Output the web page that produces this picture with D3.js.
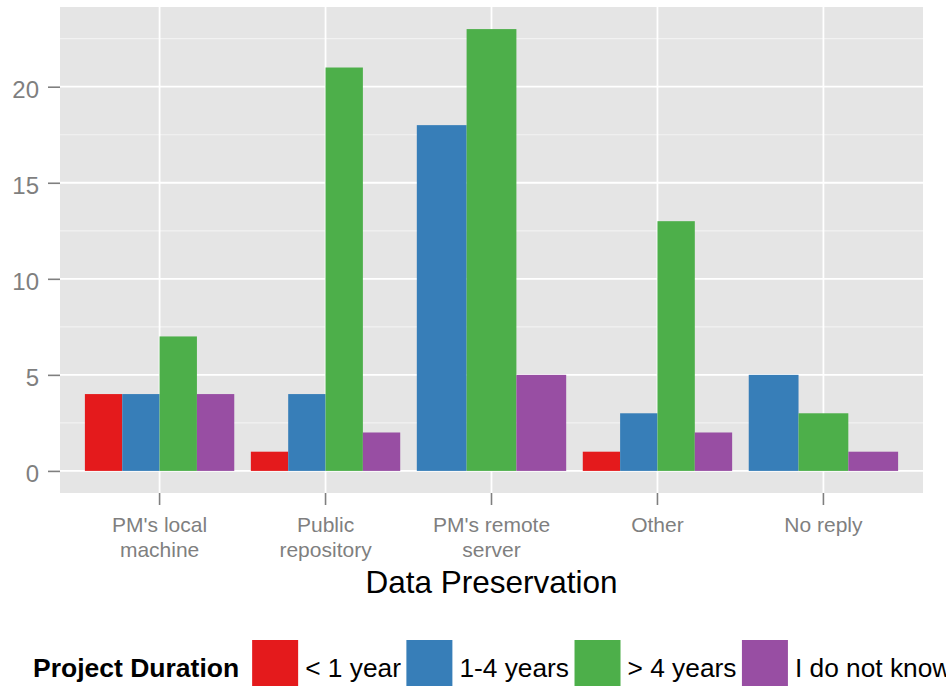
<!DOCTYPE html>
<html>
<head>
<meta charset="utf-8">
<script src="https://cdn.jsdelivr.net/npm/d3@7"></script>
<style>
  body { margin: 0; background: #fff; }
  svg { display: block; font-family: "Liberation Sans", Arial, sans-serif; }
</style>
</head>
<body>
<svg id="chart" width="946" height="686"></svg>
<script>
// ---- data ----
const categories = ["PM's local machine", "Public repository", "PM's remote server", "Other", "No reply"];
const categoryLines = [["PM's local", "machine"], ["Public", "repository"], ["PM's remote", "server"], ["Other"], ["No reply"]];
const groups = ["< 1 year", "1-4 years", "> 4 years", "I do not know"];
const lessThan1Year = [4, 1, null, 1, null];
const oneToFourYears = [4, 4, 18, 3, 5];
const moreThan4Years = [7, 21, 23, 13, 3];
const doNotKnow = [4, 2, 5, 2, 1];
const groupColors = ["#E41A1C", "#377EB8", "#4DAF4A", "#984EA3"];
const yTicks = [0, 5, 10, 15, 20];
const yMinorTicks = [2.5, 7.5, 12.5, 17.5, 22.5];
const xTitle = "Data Preservation";
const legendTitle = "Project Duration";

const seriesValues = [lessThan1Year, oneToFourYears, moreThan4Years, doNotKnow];

// ---- layout ----
const svg = d3.select("#chart");
const panel = { left: 60, top: 7, right: 923, bottom: 493 };

const x = d3.scaleBand().domain(categories)
  .range([panel.left, panel.right]).paddingInner(0).paddingOuter(0.1);
const maxVal = d3.max(seriesValues.flat().filter(v => v != null));
const expand = maxVal * 0.05;
const y = d3.scaleLinear().domain([-expand, maxVal + expand]).range([panel.bottom, panel.top]);

// panel background
svg.append("rect")
  .attr("x", panel.left).attr("y", panel.top)
  .attr("width", panel.right - panel.left).attr("height", panel.bottom - panel.top)
  .attr("fill", "#E5E5E5");

// minor grid
svg.append("g").selectAll("line").data(yMinorTicks).join("line")
  .attr("x1", panel.left).attr("x2", panel.right)
  .attr("y1", d => y(d)).attr("y2", d => y(d))
  .attr("stroke", "#F2F2F2").attr("stroke-width", 1.2);
// major grid
svg.append("g").selectAll("line").data(yTicks).join("line")
  .attr("x1", panel.left).attr("x2", panel.right)
  .attr("y1", d => y(d)).attr("y2", d => y(d))
  .attr("stroke", "#FFFFFF").attr("stroke-width", 1.8);
svg.append("g").selectAll("line").data(categories).join("line")
  .attr("x1", d => x(d) + x.bandwidth() / 2).attr("x2", d => x(d) + x.bandwidth() / 2)
  .attr("y1", panel.top).attr("y2", panel.bottom)
  .attr("stroke", "#FFFFFF").attr("stroke-width", 1.8);

// bars (dodged; missing groups are dropped so the rest fill the slot)
const barData = [];
categories.forEach((c, ci) => {
  const present = groups.map((g, gi) => ({ g, gi, v: seriesValues[gi][ci] })).filter(d => d.v != null);
  const total = x.bandwidth() * 0.9;
  const w = total / present.length;
  const start = x(c) + x.bandwidth() / 2 - total / 2;
  present.forEach((d, k) => barData.push({ c, gi: d.gi, v: d.v, x0: start + k * w, w }));
});
svg.append("g").selectAll("rect").data(barData).join("rect")
  .attr("x", d => d.x0).attr("width", d => d.w)
  .attr("y", d => y(d.v)).attr("height", d => y(0) - y(d.v))
  .attr("fill", d => groupColors[d.gi]);

// y axis
const yAxis = svg.append("g").attr("transform", `translate(${panel.left},0)`)
  .call(d3.axisLeft(y).tickValues(yTicks).tickSize(12).tickPadding(9).tickFormat(d3.format("d")));
yAxis.select(".domain").remove();
yAxis.selectAll(".tick line").attr("stroke", "#7F7F7F").attr("stroke-width", 1.6);
yAxis.selectAll(".tick text").attr("fill", "#7F7F7F").attr("font-size", 24)
  .attr("font-family", "'Liberation Sans', Arial, sans-serif").attr("dy", "0.45em");

// x axis
const xAxis = svg.append("g").attr("transform", `translate(0,${panel.bottom})`)
  .call(d3.axisBottom(x).tickSize(12).tickFormat(""));
xAxis.select(".domain").remove();
xAxis.selectAll(".tick line").attr("stroke", "#7F7F7F").attr("stroke-width", 1.6);
xAxis.selectAll(".tick").each(function (d) {
  const lines = categoryLines[categories.indexOf(d)];
  const t = d3.select(this).select("text")
    .attr("fill", "#7F7F7F").attr("font-size", 21)
    .attr("font-family", "'Liberation Sans', Arial, sans-serif")
    .attr("text-anchor", "middle").attr("y", 0).attr("dy", null);
  t.selectAll("tspan").data(lines).join("tspan")
    .attr("x", 0).attr("y", (l, i) => 39 + i * 25).text(l => l);
});

// x title
svg.append("text")
  .attr("x", (panel.left + panel.right) / 2).attr("y", 593)
  .attr("text-anchor", "middle").attr("font-size", 31.5).attr("fill", "#000")
  .text(xTitle);

// legend
const legend = svg.append("g");
const lt = legend.append("text").attr("x", 33).attr("y", 677)
  .attr("font-size", 26.5).attr("font-weight", "bold").attr("fill", "#000")
  .text(legendTitle);
let cx = 33 + lt.node().getComputedTextLength() + 13;
const keySize = 46;
groups.forEach((g, i) => {
  legend.append("rect").attr("x", cx).attr("y", 640)
    .attr("width", keySize).attr("height", keySize).attr("fill", groupColors[i]);
  const t = legend.append("text").attr("x", cx + keySize + 7).attr("y", 677)
    .attr("font-size", 26.3).attr("fill", "#000").text(g);
  cx = cx + keySize + 7 + t.node().getComputedTextLength() + 5.5;
});
</script>
</body>
</html>
